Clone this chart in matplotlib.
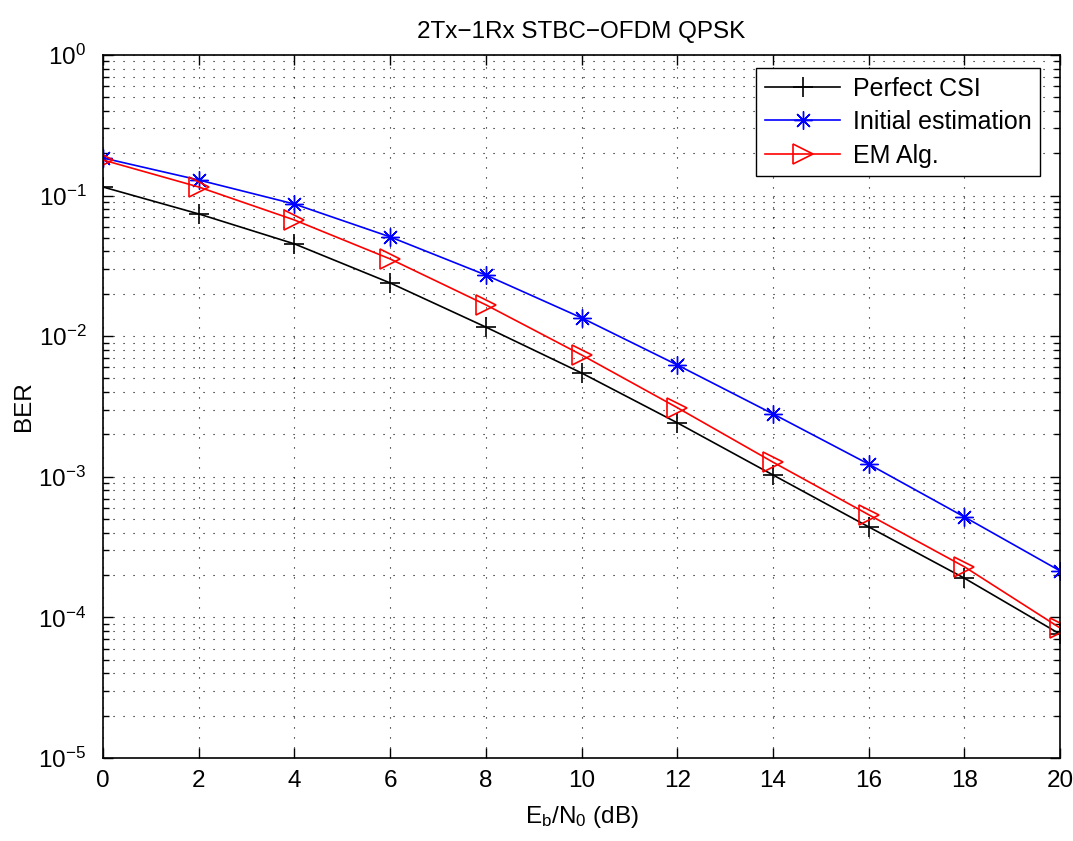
import numpy as np
import matplotlib.pyplot as plt
from matplotlib.ticker import LogLocator, NullFormatter

plt.rcParams['font.family'] = ['Liberation Sans', 'DejaVu Sans']
plt.rcParams['mathtext.fontset'] = 'custom'
plt.rcParams['mathtext.rm'] = 'Liberation Sans'
plt.rcParams['mathtext.it'] = 'Liberation Sans'

# 数据
ebn0 = [0, 2, 4, 6, 8, 10, 12, 14, 16, 18, 20]
ber_perfect = [0.115, 0.074, 0.0453, 0.0239, 0.0116, 0.00547, 0.00242, 0.00103, 4.4e-4, 1.9e-4, 7.6e-5]
ber_init = [0.185, 0.129, 0.087, 0.0508, 0.0272, 0.0135, 0.00624, 0.0028, 0.00123, 5.18e-4, 2.14e-4]
ber_em = [0.179, 0.115, 0.067, 0.0354, 0.0167, 0.00735, 0.0031, 0.00127, 5.37e-4, 2.29e-4, 8.4e-5]

fs = 17.5

fig = plt.figure(figsize=(10.73, 8.41), dpi=100)
ax = fig.add_axes([0.096, 0.0987, 0.892, 0.836])

ax.semilogy(ebn0, ber_perfect, color='k', marker='+', markersize=14, mew=1.2, lw=1.2, label='Perfect CSI')
ax.semilogy(ebn0, ber_init, color='b', marker=(8, 2, 0), markersize=13, mew=1.0, lw=1.2, label='Initial estimation')
ax.semilogy(ebn0, ber_em, color='r', marker='>', markersize=14, mfc='none', mew=1.2, lw=1.2, label='EM Alg.')

ax.set_xlim(0, 20)
ax.set_ylim(1e-5, 1)
ax.set_xticks(np.arange(0, 21, 2))
ax.yaxis.set_major_locator(LogLocator(base=10, numticks=10))
ax.yaxis.set_minor_locator(LogLocator(base=10, subs=np.arange(2, 10), numticks=20))
ax.yaxis.set_minor_formatter(NullFormatter())

# 点状网格
ax.grid(True, which='major', linestyle=(0, (1, 8)), color='k', lw=0.8)
ax.grid(True, which='minor', axis='y', linestyle=(0, (1, 8)), color='k', lw=0.8)

ax.tick_params(which='both', direction='in', top=True, right=True, labelsize=fs, width=1)
ax.tick_params(which='major', length=7)
ax.tick_params(which='minor', length=4)
ax.tick_params(axis='x', pad=9)
ax.tick_params(axis='y', pad=12)
for s in ax.spines.values():
    s.set_linewidth(1.2)

ax.set_xlabel('E$_\\mathrm{b}$/N$_\\mathrm{0}$ (dB)', fontsize=fs, labelpad=8)
ax.set_ylabel('BER', fontsize=fs, labelpad=2)
ax.set_title('2Tx\u22121Rx STBC\u2212OFDM QPSK', fontsize=fs, pad=12)

leg = ax.legend(loc='upper right', bbox_to_anchor=(0.979, 0.9815), fontsize=18,
                fancybox=False, edgecolor='k', framealpha=1, handlelength=3.0,
                handletextpad=0.5, borderaxespad=0, labelspacing=0.38, borderpad=0.35)
leg.get_frame().set_linewidth(1.0)

fig.savefig('out.png', dpi=100)
